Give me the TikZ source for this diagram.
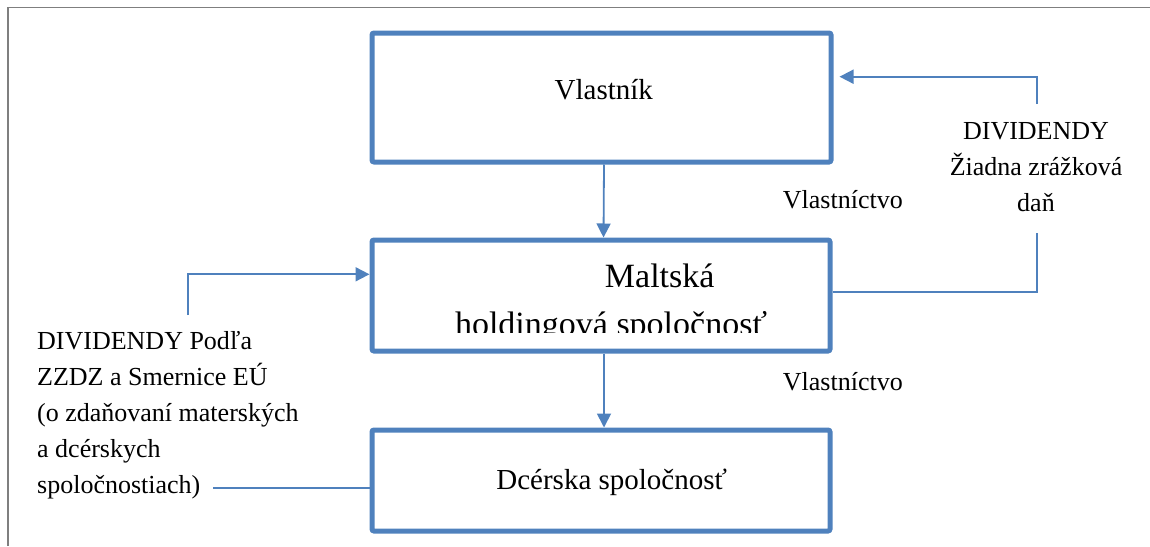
\documentclass[tikz,border=0pt]{standalone}
\usepackage{fontspec}
\setmainfont{Liberation Serif}
\usetikzlibrary{arrows.meta}
\definecolor{boxblue}{HTML}{4F81BD}
\definecolor{framegray}{HTML}{7F7F7F}
\begin{document}
\begin{tikzpicture}[x=1pt,y=-1pt,
  box/.style={draw=boxblue,line width=5pt,rounded corners=2pt,inner sep=0pt},
  conn/.style={draw=boxblue,line width=1.8pt},
  arr/.style={conn,-{Triangle[length=14pt,width=14pt]}},
  txtbig/.style={font=\fontsize{29}{34}\selectfont,inner sep=0pt},
  txthold/.style={font=\fontsize{34}{40}\selectfont,inner sep=0pt},
  txtside/.style={font=\fontsize{26}{36.1}\selectfont,inner sep=0pt}]
\useasboundingbox (0,0) rectangle (1150,546);
% frame
\draw[framegray,line width=1.5pt] (8,546) -- (8,7.5) -- (1150,7.5);
% boxes
\node[box,minimum width=459pt,minimum height=129pt] (b1) at (601.5,97.5) {};
\node[box,minimum width=458pt,minimum height=111pt] (b2) at (601,295.5) {};
\node[box,minimum width=458pt,minimum height=101pt] (b3) at (601,480.5) {};
% box texts
\node[txtbig,anchor=base] (t1) at (603.8,99) {Vlastník};
\begin{scope}
\clip (375,243) rectangle (827,332.5);
\node[txthold,anchor=base] (t2a) at (659.7,287.3) {Maltská};
\node[txthold,anchor=base] (t2b) at (611,335) {holdingová spoločnosť};
\end{scope}
\node[txtbig,anchor=base] (t3) at (611.7,489) {Dcérska spoločnosť};
% ownership labels
\node[txtside,anchor=base west] (o1) at (782.7,208) {Vlastníctvo};
\node[txtside,anchor=base west] (o2) at (782.7,390) {Vlastníctvo};
% side texts
\node[txtside,align=center,anchor=north] (rt) at (1036,122.3) {DIVIDENDY\\Žiadna zrážková\\daň};
\node[txtside,align=left,anchor=north west] (lt) at (37,331.1) {DIVIDENDY Podľa\\ZZDZ a Smernice EÚ\\(o zdaňovaní materských\\a dcérskych\\spoločnostiach)};
% ownership arrows
\draw[arr] ([xshift=2.5pt]b1.south) -- ([xshift=2.5pt]b2.north);
\draw[arr] ([xshift=3pt]b2.south) -- ([xshift=3pt]b3.north);
% right dividend connector
\coordinate (r0) at (1036.7,291.7);
\coordinate (r1) at (1036.7,233);
\coordinate (r2) at (1036.7,104);
\coordinate (r3) at (1036.7,76.7);
\draw[conn] (b2.east |- r0) -- (r0) -- (r1);
\draw[arr,shorten >=6pt] (r2) -- (r3) -- (b1.east |- r3);
% left dividend connector
\coordinate (l1) at (187.7,315);
\coordinate (l2) at (187.7,274.3);
\draw[arr] (l1) -- (l2) -- (b2.west |- l2);
\coordinate (l3) at (213,487.7);
\draw[conn] (l3) -- (b3.west |- l3);
\end{tikzpicture}
\end{document}
